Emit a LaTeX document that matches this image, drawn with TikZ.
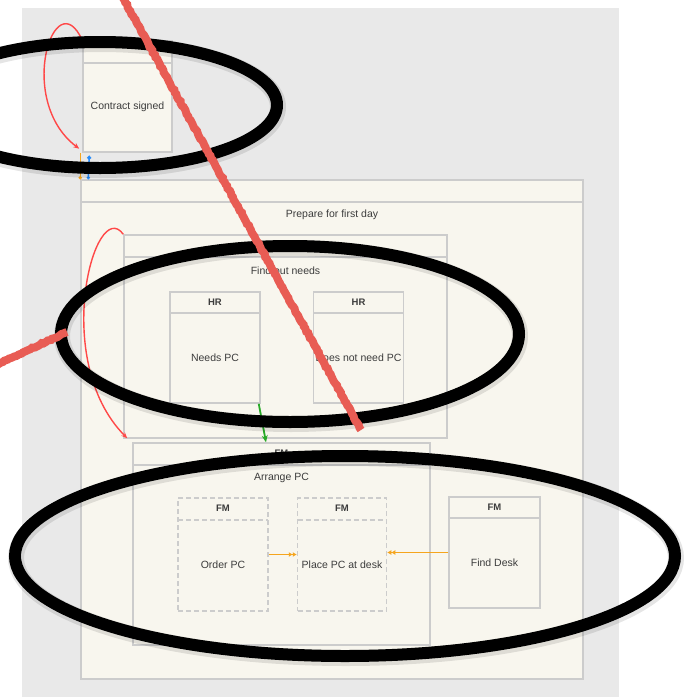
\documentclass[tikz,border=0pt]{standalone}
\usepackage{fontspec}
\setmainfont{Liberation Sans}
\usetikzlibrary{arrows.meta,positioning,decorations.pathmorphing}
\definecolor{canvasGrey}{RGB}{233,233,233}
\definecolor{paper}{RGB}{248,246,238}
\definecolor{edgeGrey}{RGB}{204,204,204}
\definecolor{inkGrey}{RGB}{60,60,60}
\definecolor{loopRed}{RGB}{255,72,72}
\definecolor{flowGreen}{RGB}{40,170,40}
\definecolor{flowAmber}{RGB}{245,165,30}
\definecolor{flowBlue}{RGB}{40,140,250}
\definecolor{scribble}{RGB}{232,92,84}

\begin{document}
\begin{tikzpicture}[x=1pt,y=-1pt,
  every node/.style={font=\fontsize{10.5}{12}\selectfont,text=inkGrey,align=center},
  band/.style={path picture={\draw[edgeGrey,line width=1.5pt]
      ([yshift=-#1]path picture bounding box.north west) -- ([yshift=-#1]path picture bounding box.north east);}},
  lane/.style={draw=edgeGrey,line width=1.5pt,fill=paper,inner sep=0pt,
      minimum width=90pt,minimum height=111pt,band=21pt},
  dashlane/.style={lane,dash pattern=on 5pt off 3pt,minimum height=113pt,
      path picture={\draw[edgeGrey,line width=1.5pt,dash pattern=on 5pt off 3pt]
      ([yshift=-22pt]path picture bounding box.north west) -- ([yshift=-22pt]path picture bounding box.north east);}},
  group/.style={draw=edgeGrey,line width=1.5pt,fill=paper,inner sep=0pt,band=22pt},
  headtxt/.style={anchor=north,minimum height=21pt,inner sep=0pt,font=\bfseries\fontsize{9.5}{11}\selectfont},
  bodytxt/.style={yshift=-10.5pt},
  grouptxt/.style={anchor=center,yshift=-36pt},
  loop/.style={loopRed,line width=1.4pt,-{Stealth[length=6pt,width=5pt]}},
  arr/.style={flowGreen,line width=1.8pt,-{Stealth[length=7pt,width=6pt]}},
  amberarr/.style={flowAmber,line width=1.8pt,-{Latex[length=4pt,width=5pt]Latex[length=4pt,width=5pt]}},
  bluelink/.style={flowBlue,line width=1.5pt,{Circle[length=4pt]}-{Circle[length=3pt]}},
  amberlink/.style={flowAmber,line width=1.5pt,-{Circle[length=3pt]}},
  ring/.style={black,line width=12pt},
  ringshadow/.style={black,opacity=0.10,line width=16pt},
  scrawl/.style={scribble,line width=8pt,decorate,
      decoration={random steps,segment length=2.5pt,amplitude=0.6pt}}]
\useasboundingbox (0,0) rectangle (684,697);
\fill[canvasGrey] (22,8) rectangle (619,697);
% pools and groups
\node[group,minimum width=89pt,minimum height=111pt,
  label={[bodytxt]center:Contract signed}] (contract) at (127.5,96.5) {};
\node[group,minimum width=502pt,minimum height=499pt,
  label={[grouptxt]north:Prepare for first day}] (prep) at (332,429.5) {};
\node[group,minimum width=323pt,minimum height=203pt,
  label={[grouptxt]north:Find out needs}] (findout) at (285.5,336.5) {};
\node[group,minimum width=297pt,minimum height=202pt,
  label={[headtxt,minimum height=22pt]north:FM},
  label={[grouptxt]north:Arrange PC}] (arrange) at (281.5,544) {};
% lanes
\node[lane,label={[headtxt]north:HR},label={[bodytxt]center:Needs PC}] (needpc) at (215,347.5) {};
\node[lane,right=52pt of needpc,label={[headtxt]north:HR},
  label={[bodytxt]center:Does not need PC}] (nopc) {};
\node[dashlane,label={[headtxt,minimum height=22pt]north:FM},
  label={[bodytxt]center:Order PC}] (order) at (223,554.5) {};
\node[dashlane,minimum width=89pt,right=28pt of order,label={[headtxt,minimum height=22pt]north:FM},
  label={[bodytxt]center:Place PC at desk}] (place) {};
\node[lane,minimum width=91pt,label={[headtxt]north:FM},
  label={[bodytxt]center:Find Desk}] (desk) at (494.5,552.5) {};
% connectors
\draw[loop] (contract.north west) .. controls (55,-20) and (15,100) .. ([xshift=-3pt,yshift=4pt]contract.south west);
\draw[amberlink] ([xshift=-2pt]contract.south west) -- ([xshift=-2pt]contract.south west |- prep.north);
\draw[bluelink] ([xshift=7pt,yshift=-3pt]contract.south west) -- ([xshift=6pt]contract.south west |- prep.north);
\draw[loop] (findout.north west) .. controls (95,195) and (50,360) .. ([xshift=-5pt,yshift=4pt]arrange.north west);
\draw[arr] ([xshift=-2pt]needpc.south east) -- ([xshift=-15.5pt]arrange.north);
\draw[amberarr] (order.east) -- (place.west |- order.east);
\draw[amberarr] (desk.west) -- (place.east |- desk.west);
% marks drawn over the screenshot
\draw[ringshadow] (101,107) ellipse [x radius=177pt,y radius=63pt];
\draw[ring] (100,105) ellipse [x radius=177pt,y radius=63pt];
\draw[ringshadow] (291,336) ellipse [x radius=229pt,y radius=88pt];
\draw[ring] (290,334) ellipse [x radius=229pt,y radius=88pt];
\draw[ringshadow] (346,558) ellipse [x radius=330pt,y radius=100pt];
\draw[ring] (345,556) ellipse [x radius=330pt,y radius=100pt];
\draw[scrawl] (122,-4) -- (361,430);
\draw[scrawl] (-4,365) -- (67,332);
\end{tikzpicture}
\end{document}
